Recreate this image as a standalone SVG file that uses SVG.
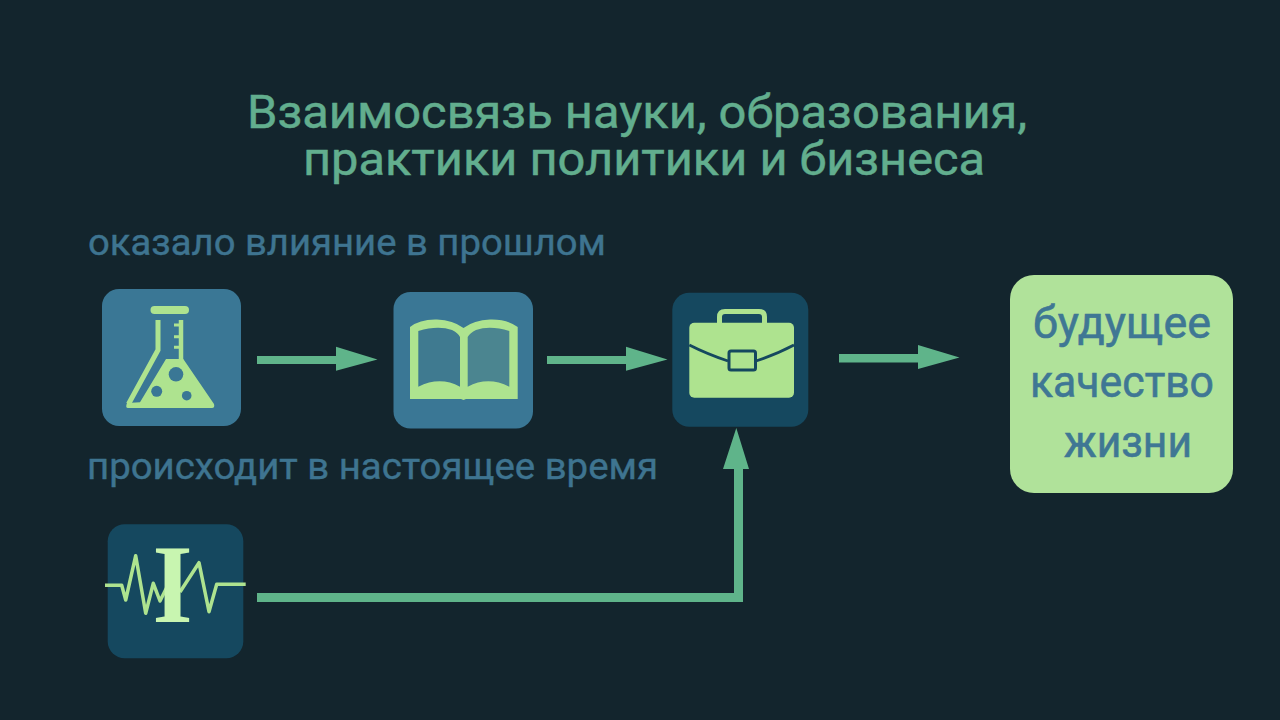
<svg xmlns="http://www.w3.org/2000/svg" width="1280" height="720" viewBox="0 0 1280 720">
<style>
text{font-family:"Roboto","Noto Sans",sans-serif}
.title{font-size:47px;fill:#62ae8e;stroke:#62ae8e;stroke-width:.5px}
.sub{font-size:37px;fill:#3e7490;stroke:#3e7490;stroke-width:.4px}
.res{font-size:45px;fill:#3f7794;stroke:#3f7794;stroke-width:.6px}
.ic{fill:#aee38f}
.lt{fill:#3a7795}
.dk{fill:#15485f}
.line{fill:none;stroke:#aee38f}
.arrow{fill:#5fb48a}
</style>
<rect width="1280" height="720" fill="#13252d"/>
<g id="title">
<text class="title" x="247" y="127.500" textLength="780" lengthAdjust="spacingAndGlyphs">Взаимосвязь науки, образования,</text>
<text class="title" x="303" y="175" textLength="682" lengthAdjust="spacingAndGlyphs">практики политики и бизнеса</text>
</g>
<g id="label-past"><text class="sub" x="88" y="255" textLength="518" lengthAdjust="spacingAndGlyphs">оказало влияние в прошлом</text></g>
<g id="label-present"><text class="sub" x="87" y="479" textLength="571" lengthAdjust="spacingAndGlyphs">происходит в настоящее время</text></g>
<g id="connectors">
<path class="arrow" d="M257,356H336V346.700L377.500,359.500L336,370.700V364H257Z"/>
<path class="arrow" d="M547,356H626V346.700L667.500,359.500L626,370.700V364H547Z"/>
<path class="arrow" d="M839,354H918V345L959.500,357.500L918,369V362.500H839Z"/>
<path class="arrow" d="M257,593H734V469H723L736.300,428L749,469H743V602H257Z"/>
</g>
<g id="node-science">
<rect class="lt" x="102" y="289" width="139" height="137" rx="17"/>
<rect class="ic" x="150.500" y="306" width="38.500" height="8" rx="4"/>
<path class="line" stroke-width="5" d="M158,320V350L128.500,404"/>
<path class="line" stroke-width="4.500" d="M181,320V360"/>
<path class="line" stroke-width="3" d="M174,325H180M174,336.700H180M174,347.300H180"/>
<path class="ic" d="M166,359H183.300L214,404Q215,408 212,408H128Q125,408 127,403L140,402.300Z"/>
<circle class="lt" cx="176" cy="374.300" r="7.300"/>
<circle class="lt" cx="156.700" cy="391.300" r="5.500"/>
<circle class="lt" cx="186.700" cy="395.700" r="4.800"/>
</g>
<g id="node-education">
<rect class="lt" x="393.500" y="292" width="139.500" height="136.500" rx="17"/>
<path class="ic" d="M410,327Q420,319 437,319.500Q453,320 463.500,328Q474,320 490,319.500Q507,319 517.700,327V399H466L463.500,400L461,399H410Z"/>
<path fill="#3f7a90" d="M418.300,331Q438,325 452,330Q458,333 460,337V386.700Q440,376 418.300,386.700Z"/>
<path fill="#4b8590" d="M509.300,331Q490,325 476,330Q470,333 467.700,337V386.700Q488,376 509.300,386.700Z"/>
</g>
<g id="node-practice">
<rect class="dk" x="672.300" y="292.700" width="136" height="134" rx="17"/>
<path class="line" stroke-width="5" d="M719.500,323V317Q719.500,311.500 725,311.500H759Q764.500,311.500 764.500,317V323"/>
<rect class="ic" x="689.300" y="322.700" width="104.700" height="75" rx="5"/>
<path fill="none" stroke="#15485f" stroke-width="2.800" d="M689.300,345Q707,354 728,361M756,361Q777,354 794,345"/>
<rect class="ic" x="729" y="351" width="26.500" height="19" rx="2" stroke="#15485f" stroke-width="3"/>
</g>
<g id="node-policy">
<rect class="dk" x="107.700" y="524.300" width="135.600" height="134" rx="17"/>
<path class="line" stroke-width="3.500" stroke-linejoin="round" d="M105,585.300H121.700L125.700,600L135.700,555.700L145.700,613.300L153.300,583.300L160,601L168,585M180,592L199,562.700L209,611.700L216.700,584.300H245.700"/>
<text transform="translate(172.500,622) scale(.92,1)" text-anchor="middle" font-size="112" fill="#c8f5b0" style="font-family:'Liberation Serif',serif;font-weight:700">I</text>
</g>
<g id="node-result">
<rect fill="#b0e29a" x="1010" y="275" width="223" height="218" rx="24"/>
<text class="res" x="1033" y="337.500" textLength="178" lengthAdjust="spacingAndGlyphs">будущее</text>
<text class="res" x="1030" y="397" textLength="184" lengthAdjust="spacingAndGlyphs">качество</text>
<text class="res" x="1064" y="456.500" textLength="128" lengthAdjust="spacingAndGlyphs">жизни</text>
</g>
</svg>
